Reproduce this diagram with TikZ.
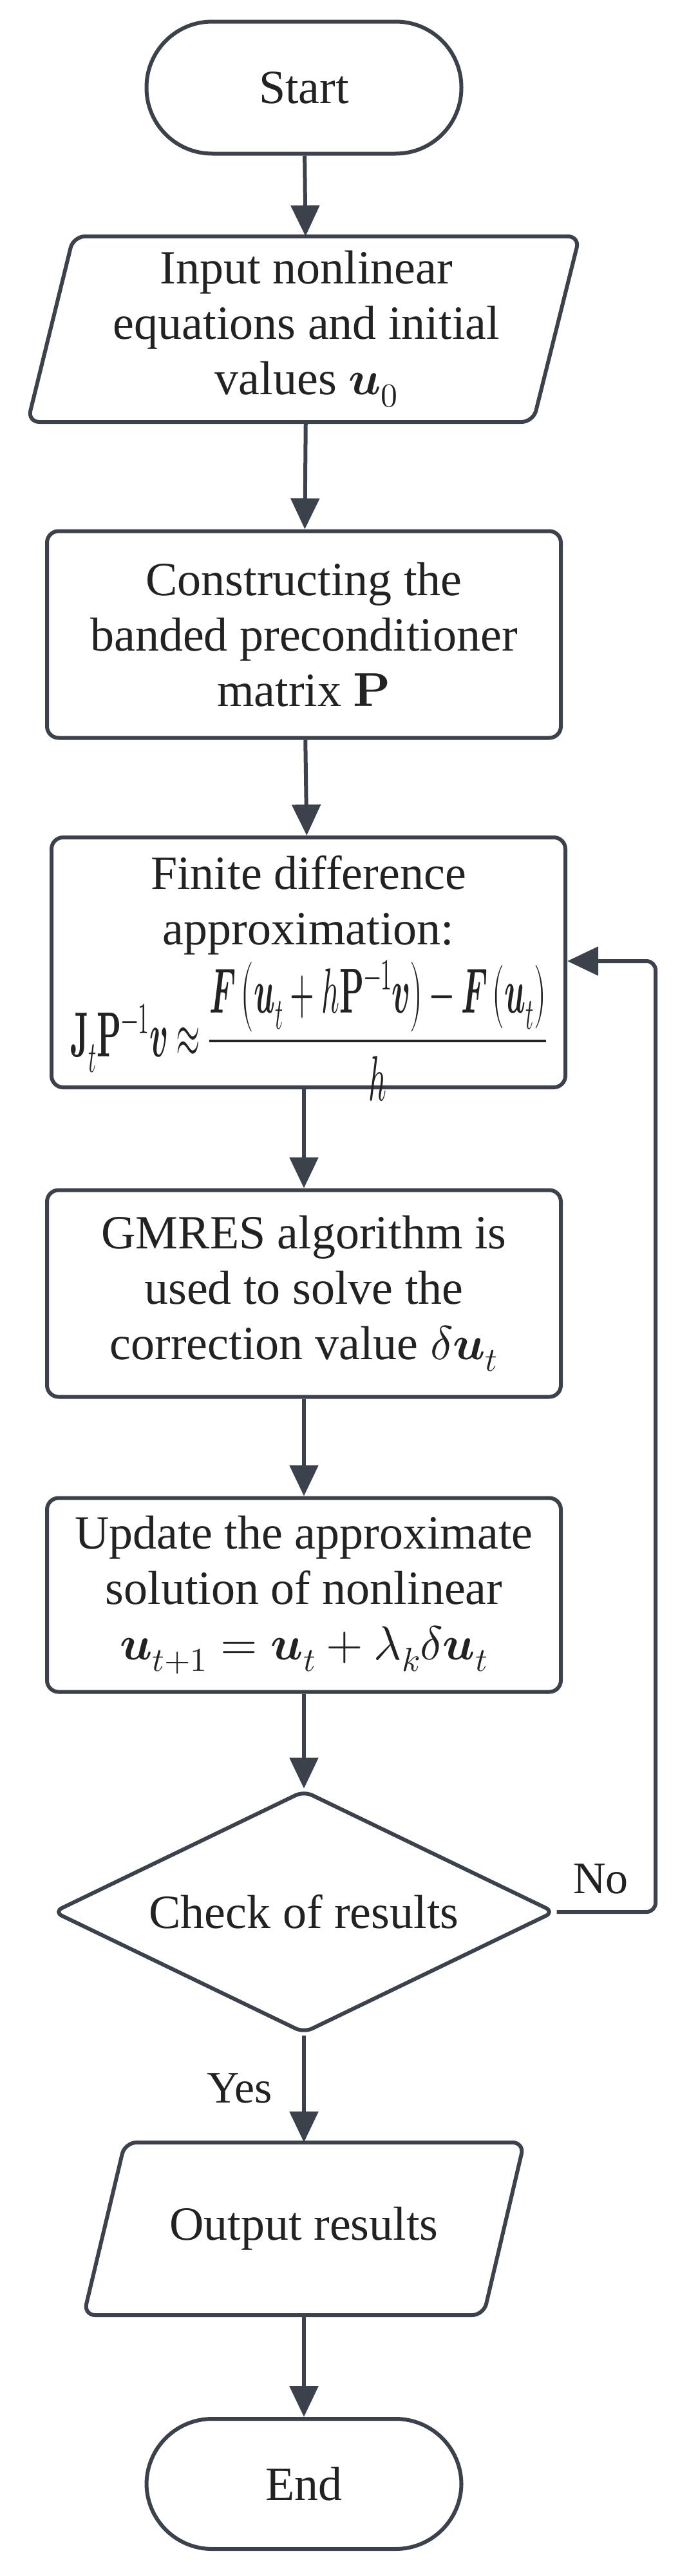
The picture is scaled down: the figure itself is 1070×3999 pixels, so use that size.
\documentclass[tikz,border=0pt]{standalone}
\usepackage{amsmath,graphicx}
\usepackage{unicode-math}
\setmainfont{Liberation Serif}
\setmathfont{Latin Modern Math}
\usetikzlibrary{shapes.geometric,arrows.meta}
\definecolor{ln}{HTML}{3C424B}
\definecolor{tx}{HTML}{222222}
\begin{document}
\begin{tikzpicture}[x=1pt,y=-1pt,
  every node/.style={text=tx,font=\fontsize{74}{86}\selectfont,align=center},
  stadium/.style={draw=ln,line width=6pt,rounded corners=102pt,minimum width=489pt,minimum height=205pt},
  procbox/.style={draw=ln,line width=6pt,rounded corners=18pt,minimum width=798pt},
  ghost/.style={draw=none,inner sep=0pt},
  decide/.style={draw=ln,line width=6pt,diamond,aspect=2.07,minimum width=779pt,minimum height=377pt,inner sep=0pt,rounded corners=14pt},
  flow/.style={draw=ln,line width=6pt,-{Triangle[length=48pt,width=44pt]}},
  lbl/.style={text=tx,font=\fontsize{70}{80}\selectfont}]
\useasboundingbox (0,0) rectangle (1070,3999);
% Start
\node[stadium] (start) at (472,136) {Start};
% Input parallelogram
\draw[ln,line width=6pt,rounded corners=18pt] (114,367) -- (900,367) -- (828,655) -- (43,655) -- cycle;
\node[ghost,minimum width=700pt,minimum height=288pt] (input) at (476,511)
  {Input nonlinear\\equations and initial\\values $\symbfit{u}_0$};
% Construct
\node[procbox,minimum height=321pt] (cons) at (472,985)
  {Constructing the\\banded preconditioner\\matrix $\symbf{P}$};
% Finite
\node[procbox,minimum height=388pt] (fin) at (479,1494) {};
\node[ghost] (fintxt) at (479,1405) {Finite difference\\approximation:};
\node[ghost] (finf) at (479,1600) {\resizebox{740pt}{150pt}{$\symbf{J}_t\symbf{P}^{-1}\symbfit{v}\approx\dfrac{\symbfit{F}\left(\symbfit{u}_t+h\symbf{P}^{-1}\symbfit{v}\right)-\symbfit{F}\left(\symbfit{u}_t\right)}{h}$}};
% GMRES
\node[procbox,minimum height=321pt] (gm) at (472,2008)
  {GMRES algorithm is\\used to solve the\\correction value $\delta\symbfit{u}_t$};
% Update
\node[procbox,minimum height=301pt] (up) at (472,2476)
  {Update the approximate\\solution of nonlinear\\$\symbfit{u}_{t+1}=\symbfit{u}_t+\lambda_k\delta\symbfit{u}_t$};
% Decision
\node[decide] (chk) at (472,2968) {Check of results};
% Output parallelogram
\draw[ln,line width=6pt,rounded corners=18pt] (194,3326) -- (814,3326) -- (751,3594) -- (130,3594) -- cycle;
\node[ghost,minimum width=560pt,minimum height=268pt] (out) at (472,3460) {Output results};
% End
\node[stadium,minimum height=202pt] (end) at (472,3856) {End};
% connectors
\draw[flow] (start) -- (input);
\draw[flow] (input) -- (cons);
\draw[flow] (cons) -- (fin);
\draw[flow] (fin.south -| gm) -- (gm);
\draw[flow] (gm) -- (up);
\draw[flow] (up) -- (chk);
\draw[flow] (chk) -- (out);
\draw[flow] (out) -- (end);
\coordinate (c1) at (1018,2968);
\coordinate (c2) at (1018,1492);
\draw[flow,rounded corners=14pt] (chk.east) -- (c1) -- (c2) -- (fin.east |- c2);
\node[lbl] (no) at (933,2917) {No};
\node[lbl] (yes) at (372,3242) {Yes};
\end{tikzpicture}
\end{document}
